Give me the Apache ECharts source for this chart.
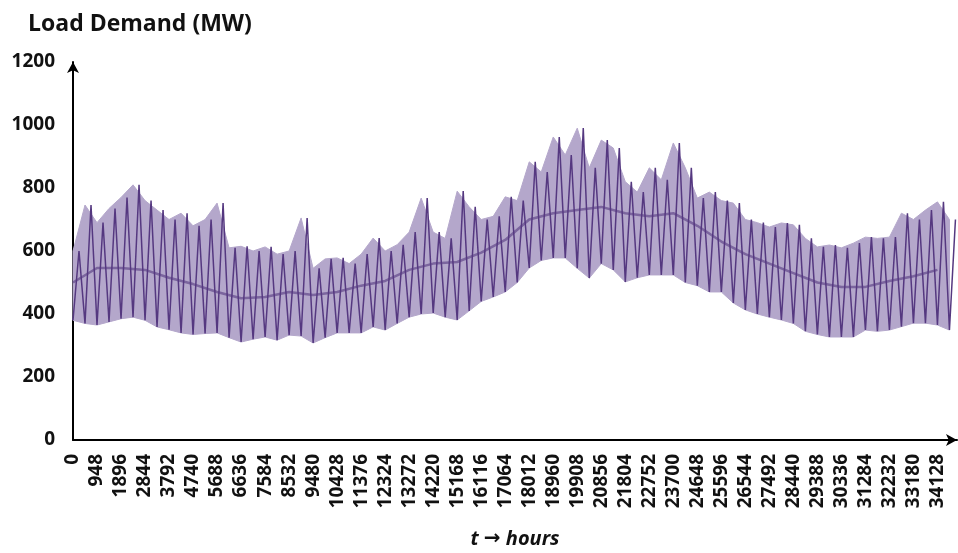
<!DOCTYPE html>
<html>
<head>
<meta charset="utf-8">
<title>Load Demand</title>
<script src="https://cdn.jsdelivr.net/npm/echarts@6/dist/echarts.min.js"></script>
<style>
    html, body {margin: 0; padding: 0; background: #fff;}
    #main_line {width: 958px; height: 553px;}
</style>
</head>
<body>
<div id="main_line"></div>
<script>
// sample spacing (hours) of the values
var stepHours = 474;
// upper envelope of the load (MW), one value every 474 h
var highLoad = [600, 746, 690, 735, 770, 810, 760, 730, 700, 720,
    680, 700, 752, 610, 615, 600, 613, 590, 600, 705,
    545, 575, 578, 560, 590, 641, 600, 620, 660, 768,
    660, 640, 790, 740, 700, 710, 772, 760, 883, 851,
    962, 905, 990, 864, 952, 927, 820, 787, 864, 826,
    943, 864, 768, 787, 760, 752, 700, 690, 676, 689,
    683, 640, 613, 619, 610, 625, 644, 640, 644, 720,
    700, 730, 756, 700];
// lower envelope of the load (MW)
var lowLoad = [380, 370, 365, 375, 385, 390, 380, 359, 350, 340,
    335, 338, 340, 325, 311, 320, 327, 317, 333, 330,
    308, 325, 340, 340, 340, 359, 349, 370, 390, 400,
    403, 390, 381, 410, 440, 454, 470, 500, 546, 570,
    578, 578, 545, 514, 560, 540, 502, 515, 524, 524,
    524, 500, 490, 470, 470, 435, 413, 400, 390, 381,
    370, 345, 335, 327, 327, 327, 349, 345, 349, 360,
    371, 371, 365, 349];
// dark core of the trace (MW), one value every 948 h
var midStep = 948;
var midLoad = [500, 546, 546, 540, 515, 495, 470, 450, 454, 470,
    460, 470, 490, 505, 540, 560, 565, 595, 635, 700,
    720, 730, 740, 720, 710, 720, 680, 630, 590, 560,
    530, 500, 486, 486, 505, 520, 540];
// axis ticks
var xTickStep = 948;
var xMax = 34900;
var yTicks = [0, 200, 400, 600, 800, 1000, 1200];

(function () {
    chartLoadShow()
}())

// light band between the two envelopes
function renderBand(params, api) {
    var pts = [];
    for (var i = 0; i < highLoad.length; i++) {
        pts.push(api.coord([i * stepHours, highLoad[i]]));
    }
    for (var j = lowLoad.length - 1; j >= 0; j--) {
        pts.push(api.coord([j * stepHours, lowLoad[j]]));
    }
    return {
        type: 'polygon',
        shape: {points: pts},
        style: {fill: '#b4a7cb', stroke: '#b4a7cb', lineWidth: 1}
    };
}

function chartLoadShow() {
    var myChart = echarts.init(document.getElementById('main_line'));
    var zigData = [], midData = [];
    for (var i = 0; i < highLoad.length; i++) {
        var t = i * stepHours;
        // daily swing: trough then peak
        zigData.push([t, lowLoad[i]]);
        zigData.push([t + stepHours / 2, highLoad[i]]);
    }
    for (var k = 0; k < midLoad.length; k++) {
        midData.push([k * midStep, midLoad[k]]);
    }
    var font = '"Open Sans", "Noto Sans", sans-serif';
    var option = {
        animation: false,
        title: {
            text: 'Load Demand (MW)',
            left: 23,
            top: 8,
            textStyle: {fontFamily: font, fontSize: 23, fontWeight: 'bold', color: '#111'}
        },
        grid: {left: 73, right: 1, top: 62, bottom: 113, containLabel: false, outerBoundsMode: 'none'},
        xAxis: {
            type: 'value',
            min: 0,
            max: xMax,
            interval: xTickStep,
            name: '{it|t }{ar|\u2192}{it| hours}',
            nameLocation: 'middle',
            nameGap: 89,
            nameTextStyle: {
                rich: {
                    it: {fontFamily: font, fontSize: 20, fontWeight: 'bold', fontStyle: 'italic', color: '#111'},
                    ar: {fontFamily: '"DejaVu Sans", sans-serif', fontSize: 20, fontWeight: 'bold', color: '#111'}
                }
            },
            axisLine: {
                lineStyle: {color: '#000', width: 2},
                symbol: ['none', 'arrow'],
                symbolSize: [9, 11]
            },
            axisTick: {show: false},
            splitLine: {show: false},
            axisLabel: {
                rotate: 90,
                margin: 14,
                showMaxLabel: false,
                formatter: function (v) { return String(v); },
                fontFamily: font,
                fontSize: 19,
                fontWeight: 'bold',
                color: '#111'
            }
        },
        yAxis: {
            type: 'value',
            min: yTicks[0],
            max: yTicks[yTicks.length - 1],
            interval: yTicks[1] - yTicks[0],
            axisLine: {
                show: true,
                lineStyle: {color: '#000', width: 2},
                symbol: ['none', 'arrow'],
                symbolSize: [9, 11]
            },
            axisTick: {show: false},
            splitLine: {show: false},
            axisLabel: {
                margin: 18,
                formatter: function (v) { return String(v); },
                fontFamily: font,
                fontSize: 19,
                fontWeight: 'bold',
                color: '#111'
            }
        },
        series: [
            {
                name: 'band',
                type: 'custom',
                renderItem: renderBand,
                data: [[0, lowLoad[0]]],
                silent: true,
                z: 1
            },
            {
                name: 'load',
                type: 'line',
                data: zigData,
                symbol: 'none',
                lineStyle: {color: '#553880', width: 1.5},
                z: 2
            },
            {
                name: 'core',
                type: 'line',
                data: midData,
                symbol: 'none',
                lineStyle: {color: '#553880', width: 2.5, opacity: 0.6},
                z: 3
            }
        ]
    };
    myChart.setOption(option);
}
</script>
</body>
</html>
